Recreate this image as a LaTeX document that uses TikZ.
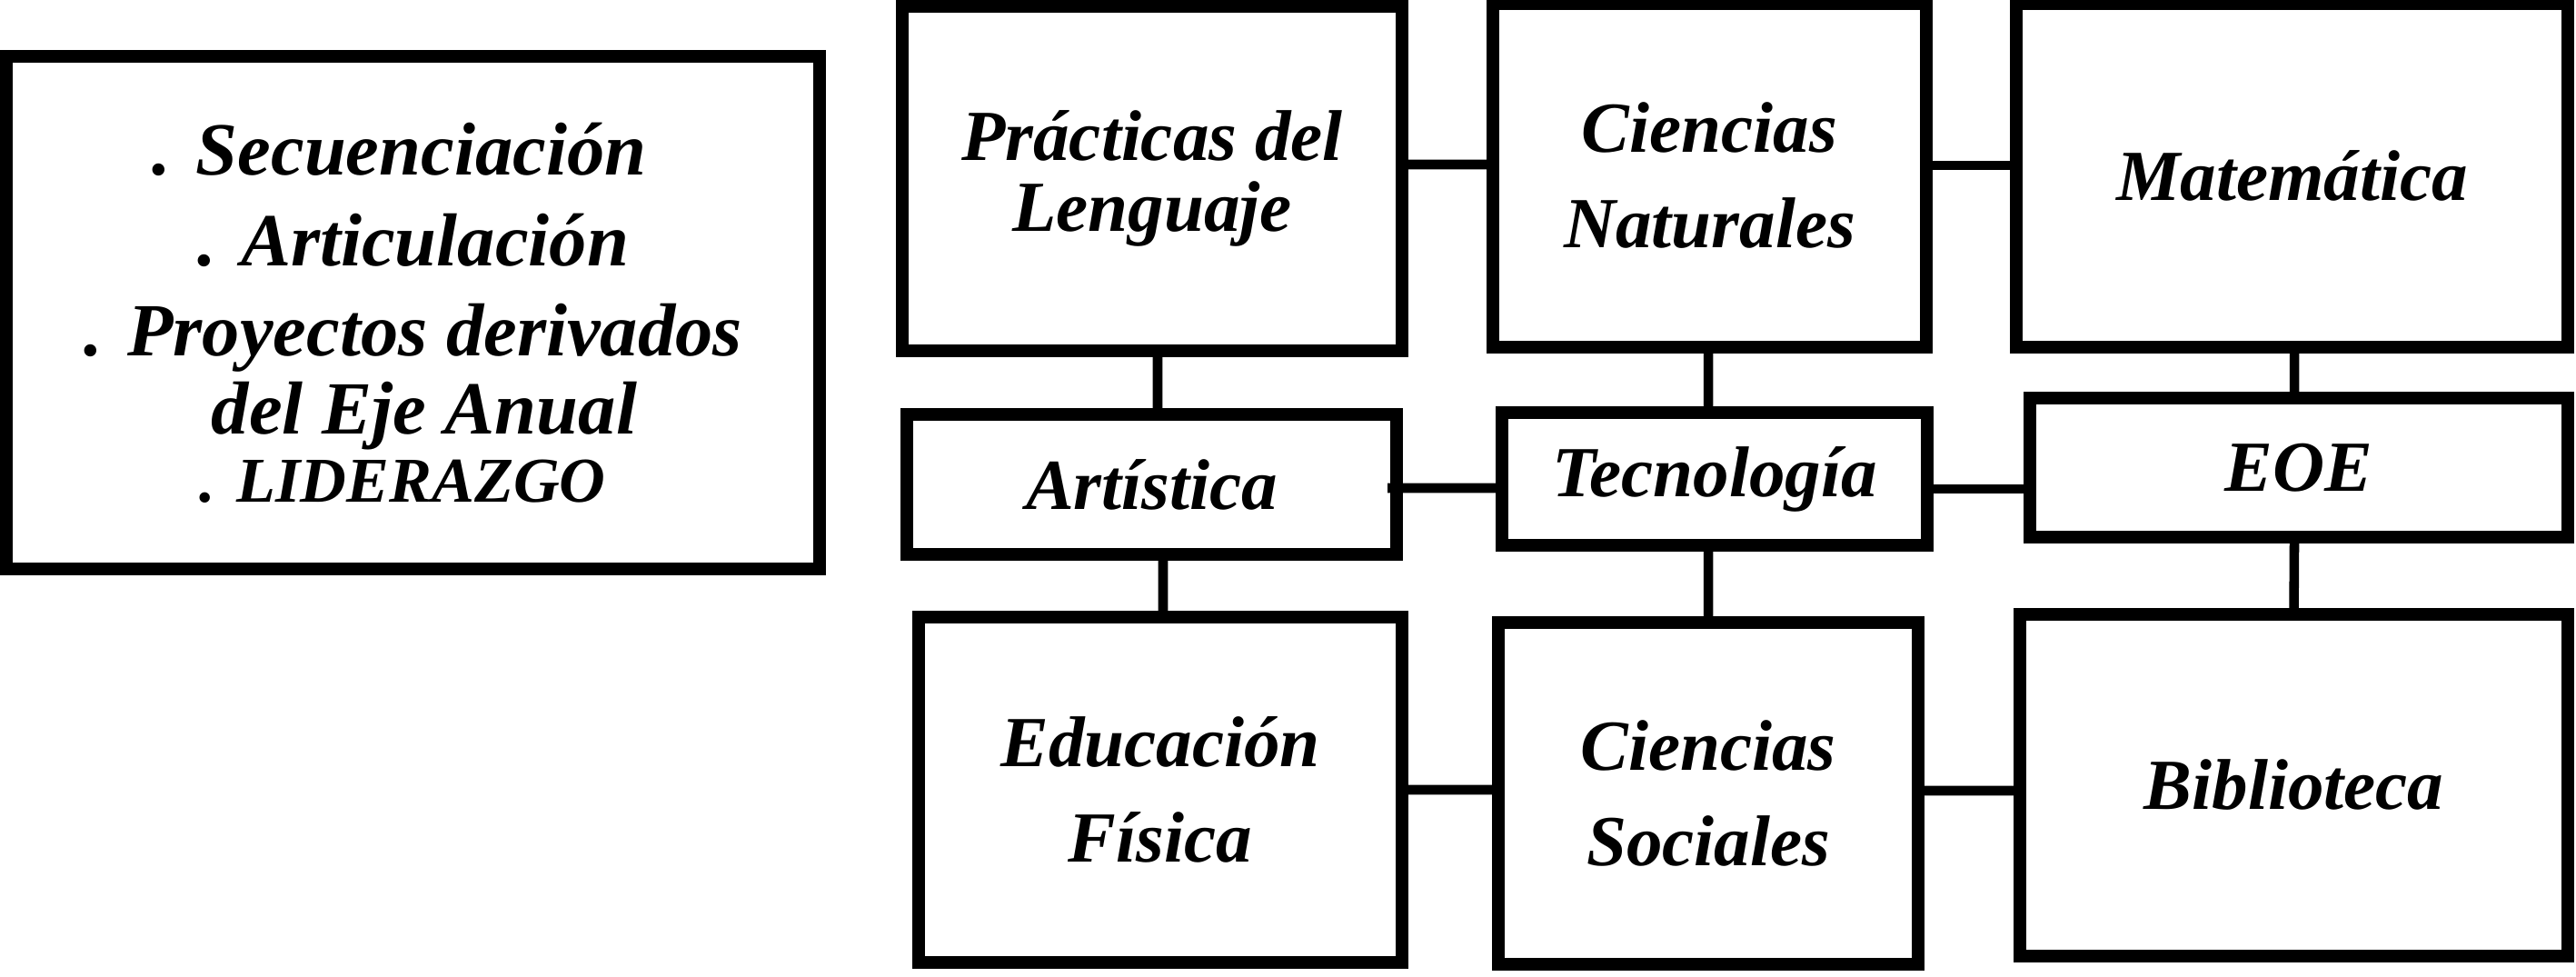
\documentclass[tikz,border=0pt]{standalone}
\usepackage{fontspec}
\setmainfont{Liberation Serif}
\usepackage{tikz}

\begin{document}
\begin{tikzpicture}[
	area/.style={draw, line width=4.1pt, align=center, inner sep=0pt, font=\bfseries\itshape\fontsize{22.5}{29.9}\selectfont},
	link/.style={line width=3pt}
	]
	\useasboundingbox (0,0) rectangle (28.35,-10.75);
	
	%left box
	\node[area, minimum width=8.95cm, minimum height=5.64cm, font=\bfseries\itshape\fontsize{23.5}{28.4}\selectfont] (ejes) at (4.545,-3.44)
	{. Secuenciaci\'on\hspace*{3mm}\\ . Articulaci\'on\hspace*{3mm}\\ . Proyectos derivados\hspace*{3mm}\\[-4.1pt]
	\hspace*{2.5mm}del Eje Anual\\[-7.1pt] {\fontsize{20}{24}\selectfont . LIDERAZGO}\hspace*{2.3mm}};
	
	%top row
	\node[area, minimum width=5.50cm, minimum height=3.79cm, font=\bfseries\itshape\fontsize{22.5}{22.2}\selectfont] (lenguaje) at (12.68,-1.965) {Pr\'acticas del\\Lenguaje};
	\node[area, minimum width=4.77cm, minimum height=3.78cm] (naturales) at (18.815,-1.93) {Ciencias\\Naturales};
	\node[area, minimum width=6.07cm, minimum height=3.78cm] (matematica) at (25.225,-1.93) {Matem\'atica};
	
	%middle row
	\node[area, minimum width=5.39cm, minimum height=1.54cm] (artistica) at (12.675,-5.33) {Art\'istica};
	\node[area, minimum width=4.68cm, minimum height=1.46cm] (tecnologia) at (18.87,-5.27) {Tecnolog\'ia};
	\node[area, minimum width=5.92cm, minimum height=1.53cm] (eoe) at (25.30,-5.145) {EOE};
	
	%bottom row
	\node[area, minimum width=5.32cm, minimum height=3.80cm] (educacion) at (12.77,-8.69) {Educaci\'on\\F\'isica};
	\node[area, minimum width=4.62cm, minimum height=3.76cm] (sociales) at (18.80,-8.73) {Ciencias\\Sociales};
	\node[area, minimum width=6.03cm, minimum height=3.76cm] (biblioteca) at (25.245,-8.64) {Biblioteca};
	
	%links
	\draw[link] ([yshift=1.55mm]lenguaje.east) -- ([yshift=1.2mm]naturales.west);
	\draw[link] ([yshift=1.1mm]naturales.east) -- ([yshift=1.1mm]matematica.west);
	\draw[link] ([xshift=0.6mm]lenguaje.south) -- ([xshift=0.65mm]artistica.north);
	\draw[link] ([xshift=-0.15mm]naturales.south) -- ([xshift=-0.7mm,yshift=-1.2mm]tecnologia.north);
	\draw[link] ([xshift=0.25mm]matematica.south) -- ([xshift=-0.5mm]eoe.north);
	\draw[link] ([xshift=-1.7mm,yshift=-0.4mm]artistica.east) -- ([yshift=-1mm]tecnologia.west);
	\draw[link] ([yshift=-1.1mm]tecnologia.east) -- ([yshift=-2.35mm]eoe.west);
	\draw[link] ([xshift=1.25mm]artistica.south) -- ([xshift=0.3mm]educacion.north);
	\draw[link] ([xshift=-0.7mm]tecnologia.south) -- (sociales.north);
	\draw[link] ([xshift=-0.5mm]eoe.south) -- ([yshift=-0.8mm]biblioteca.north);
	\draw[link] (educacion.east) -- ([yshift=0.4mm]sociales.west);
	\draw[link] ([yshift=0.3mm]sociales.east) -- ([yshift=-0.6mm]biblioteca.west);
\end{tikzpicture}
\end{document}
